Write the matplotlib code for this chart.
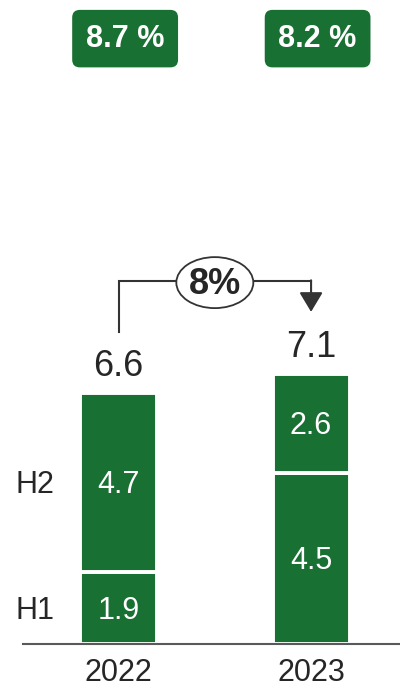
import matplotlib
matplotlib.use("Agg")
import matplotlib.pyplot as plt
from matplotlib.patches import Ellipse

plt.rcParams['font.family'] = ['Liberation Sans', 'DejaVu Sans']

years = ["2022", "2023"]
h1 = [1.9, 4.5]
h2 = [4.7, 2.6]
margins = ["8.7 %", "8.2 %"]
growth = "8%"

green = "#197033"
ink = "#262626"
totals = [a + b for a, b in zip(h1, h2)]
x = list(range(len(years)))

fig = plt.figure(figsize=(4, 6.89), dpi=100)
ax = fig.add_axes([0, 0, 1, 1])
ax.set_xlim(-0.616, 1.462)
ax.set_ylim(-1.184, 16.947)
ax.axis('off')

# stacked bars, white edge gives the gap between halves
ax.bar(x, h1, width=0.40, color=green, edgecolor="white", linewidth=2.8, zorder=2)
ax.bar(x, h2, bottom=h1, width=0.40, color=green, edgecolor="white", linewidth=2.8, zorder=2)
ax.plot([-0.496, 1.462], [0, 0], color="#595959", lw=1.5, zorder=3)

for i in x:
    ax.text(i, h1[i] / 2 - 0.28, f"{h1[i]}", color="white", fontsize=22,
            ha="center", va="baseline", zorder=4)
    ax.text(i, h1[i] + h2[i] / 2 - 0.28, f"{h2[i]}", color="white", fontsize=22,
            ha="center", va="baseline", zorder=4)
    ax.text(i, totals[i] + 0.44, f"{totals[i]:.1f}", color=ink, fontsize=26,
            ha="center", va="baseline")
    ax.text(i, -0.97, years[i], color=ink, fontsize=22, ha="center", va="baseline")
    ax.text(i + 0.034, 15.72, margins[i], color="white", fontsize=22, fontweight="bold",
            ha="center", va="baseline",
            bbox=dict(boxstyle="round,pad=0.45,rounding_size=0.25", fc=green, ec="none"))

# half-year labels next to the first bar
ax.text(-0.538, h1[0] / 2 - 0.28, "H1", color=ink, fontsize=22, ha="left", va="baseline")
ax.text(-0.538, h1[0] + h2[0] / 2 - 0.28, "H2", color=ink, fontsize=22, ha="left", va="baseline")

# growth bracket
top = max(totals) + 2.45
ax.plot([x[0], x[0], x[1]], [totals[0] + 1.61, top, top], color="#333333", lw=1.5,
        solid_joinstyle="miter", zorder=2)
ax.annotate("", xy=(x[1], totals[1] + 1.64), xytext=(x[1], top + 0.02),
            arrowprops=dict(arrowstyle="-|>,head_length=0.6,head_width=0.36",
                            mutation_scale=20, color="#333333", lw=1.5,
                            shrinkA=0, shrinkB=0))
mid = (x[0] + x[1]) / 2
ax.add_patch(Ellipse((mid, top - 0.04), 0.40, 1.342, fc="white", ec="#333333", lw=1.3, zorder=3))
ax.text(mid, top - 0.33, growth, color=ink, fontsize=26, fontweight="bold",
        ha="center", va="baseline", zorder=4)

fig.savefig("out.png", dpi=100)
